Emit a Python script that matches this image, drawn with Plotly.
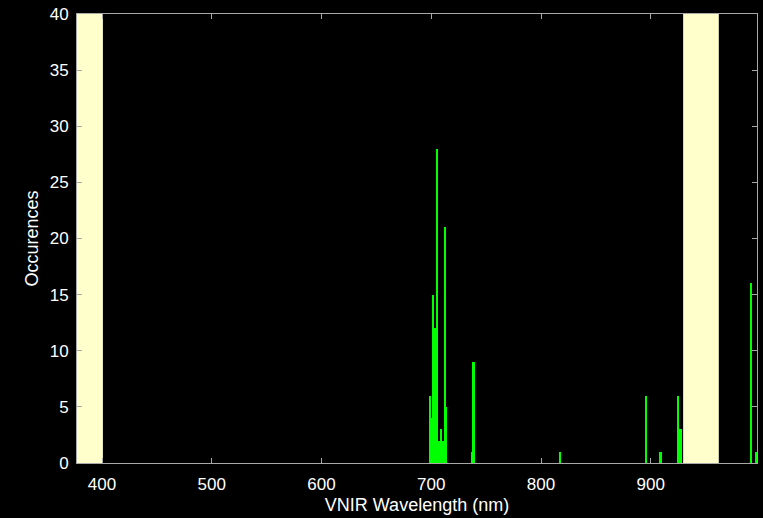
import plotly.graph_objects as go

# Data
wavelengths = [699.0, 700.4, 701.7, 703.5, 705.3, 706.4, 707.6, 708.9, 710.1, 711.0,
               712.5, 713.7, 737.4, 738.8, 817.6, 896.0, 909.2, 924.9, 927.3, 991.5, 995.9]
counts = [6, 4, 15, 12, 28, 1, 2, 3, 2, 2,
          21, 5, 1, 9, 1, 6, 1, 6, 3, 16, 1]

excluded_bands = [(377.2, 400.8), (929.5, 962.0)]
x_ticks = [400, 500, 600, 700, 800, 900]
y_ticks = [0, 5, 10, 15, 20, 25, 30, 35, 40]

fig = go.Figure()
fig.add_trace(go.Bar(
    x=wavelengths, y=counts, width=1.8,
    marker=dict(color="#00ff00", line=dict(width=0)),
    showlegend=False,
))

for lo, hi in excluded_bands:
    fig.add_shape(type="rect", xref="x", yref="paper", x0=lo, x1=hi, y0=0, y1=1,
                  fillcolor="#ffffcc", line=dict(width=0), layer="below")

font = "Liberation Sans, Arial, sans-serif"
fig.update_layout(
    width=763, height=518,
    margin=dict(l=77, r=6, t=14, b=55),
    paper_bgcolor="black", plot_bgcolor="black",
    font=dict(family=font, color="white", size=17),
    bargap=0,
)
axis_common = dict(
    showgrid=False, zeroline=False, showline=True, linecolor="#a8a8a8", linewidth=1,
    mirror="ticks", ticks="inside", ticklen=5, tickcolor="#a8a8a8",
    tickfont=dict(family=font, color="white", size=17),
)
fig.update_xaxes(range=[377.2, 996.8], tickvals=x_ticks, ticklabelstandoff=6,
                 title=dict(text="VNIR Wavelength (nm)", font=dict(size=18), standoff=4),
                 **axis_common)
fig.update_yaxes(range=[0, 40], tickvals=y_ticks, ticklabelstandoff=4,
                 title=dict(text="Occurences", font=dict(size=18), standoff=6),
                 **axis_common)

fig.write_html("out.html")
